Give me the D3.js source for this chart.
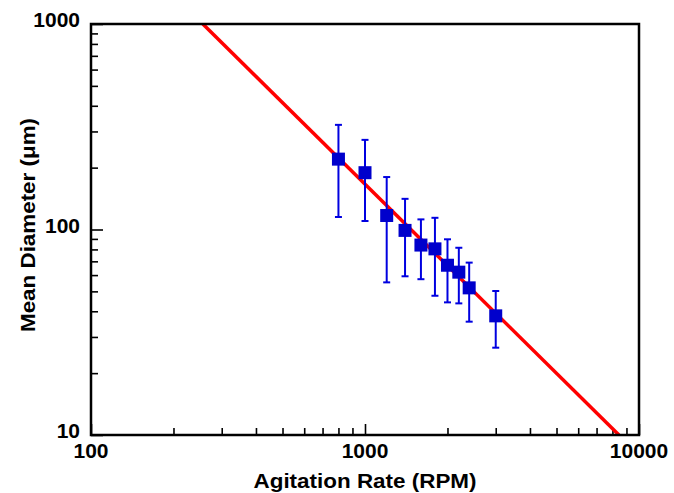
<!DOCTYPE html>
<html><head><meta charset="utf-8">
<script src="https://cdn.jsdelivr.net/npm/d3@7"></script>
<style>body{margin:0;background:#fff}svg{display:block}text{font-family:"Liberation Sans",Arial,sans-serif;font-weight:bold;fill:#000}</style>
</head><body>
<svg id="c" width="674" height="493"></svg>
<script>
const rpm      = [800, 1000, 1200, 1400, 1600, 1800, 2000, 2200, 2400, 3000];
const diameter = [220, 189, 117, 99, 84, 80.5, 67, 62, 52, 38];
const errHigh  = [323, 273, 180, 141, 112, 114, 89.6, 81.5, 69, 50.2];
const errLow   = [115, 110, 55.3, 59.2, 57.3, 47.6, 44.2, 43.7, 35.6, 26.6];
const fitRpm   = [256, 8450];
const fitDiam  = [1000, 10];
const xTickLabels = ["100", "1000", "10000"];
const yTickLabels = ["10", "100", "1000"];

const svg = d3.select("#c");
const L = 91, R = 639, T = 24, B = 435;
const x = d3.scaleLog().domain([100, 10000]).range([L, R]);
const y = d3.scaleLog().domain([10, 1000]).range([B, T]);

const xt = [], yt = [];
for (let d = 100; d < 10000; d *= 10) for (let k = 1; k <= 10; k++) xt.push(d * k);
for (let d = 10; d < 1000; d *= 10) for (let k = 1; k <= 10; k++) yt.push(d * k);
const isMajor = v => Math.abs(Math.log10(v) - Math.round(Math.log10(v))) < 1e-9;

const xAxis = d3.axisBottom(x).tickValues([...new Set(xt)]).tickFormat("");
const yAxis = d3.axisLeft(y).tickValues([...new Set(yt)]).tickFormat("");

const gx = svg.append("g").attr("transform", `translate(0,${B})`).call(xAxis);
gx.select(".domain").remove();
gx.selectAll(".tick line").attr("y2", d => isMajor(d) ? -11 : -7).attr("stroke", "#000").attr("stroke-width", 1.6);
const gy = svg.append("g").attr("transform", `translate(${L},0)`).call(yAxis);
gy.select(".domain").remove();
gy.selectAll(".tick line").attr("x2", d => isMajor(d) ? 12 : 7).attr("stroke", "#000").attr("stroke-width", 1.6);

svg.selectAll(".xl").data(xTickLabels).join("text")
  .attr("x", d => x(+d)).attr("y", 458).attr("text-anchor", "middle")
  .attr("font-size", 21).text(d => d);
svg.selectAll(".yl").data(yTickLabels).join("text")
  .attr("x", 80).attr("y", d => y(+d) + 3).attr("text-anchor", "end")
  .attr("font-size", 21).text(d => d);

svg.append("text").attr("x", x(1000)).attr("y", 488).attr("text-anchor", "middle")
  .attr("font-size", 20).attr("textLength", 223).attr("lengthAdjust", "spacingAndGlyphs")
  .text("Agitation Rate (RPM)");
svg.append("text").attr("transform", `translate(35,${225}) rotate(-90)`).attr("text-anchor", "middle")
  .attr("font-size", 20).attr("textLength", 214).attr("lengthAdjust", "spacingAndGlyphs")
  .text("Mean Diameter (μm)");

svg.append("clipPath").attr("id", "clip").append("rect")
  .attr("x", L).attr("y", T).attr("width", R - L).attr("height", B - T);

const line = d3.line().x(d => x(d[0])).y(d => y(d[1]));
svg.append("path").datum(fitRpm.map((r, i) => [r, fitDiam[i]]))
  .attr("clip-path", "url(#clip)")
  .attr("d", line).attr("fill", "none").attr("stroke", "#ff0000").attr("stroke-width", 3.5);

const pts = rpm.map((r, i) => ({r, d: diameter[i], hi: errHigh[i], lo: errLow[i]}));
const eb = svg.append("g").attr("stroke", "#0000e0").attr("stroke-width", 2);
eb.selectAll(".v").data(pts).join("line")
  .attr("x1", p => x(p.r)).attr("x2", p => x(p.r)).attr("y1", p => y(p.hi)).attr("y2", p => y(p.lo));
eb.selectAll(".ct").data(pts).join("line")
  .attr("x1", p => x(p.r) - 3.5).attr("x2", p => x(p.r) + 3.5).attr("y1", p => y(p.hi)).attr("y2", p => y(p.hi));
eb.selectAll(".cb").data(pts).join("line")
  .attr("x1", p => x(p.r) - 3.5).attr("x2", p => x(p.r) + 3.5).attr("y1", p => y(p.lo)).attr("y2", p => y(p.lo));

const s = 13;
svg.selectAll(".m").data(pts).join("rect")
  .attr("x", p => x(p.r) - s / 2).attr("y", p => y(p.d) - s / 2)
  .attr("width", s).attr("height", s).attr("fill", "#0000cc");

svg.append("rect").attr("x", L).attr("y", T).attr("width", R - L).attr("height", B - T)
  .attr("fill", "none").attr("stroke", "#000").attr("stroke-width", 2.5);
</script>
</body></html>
